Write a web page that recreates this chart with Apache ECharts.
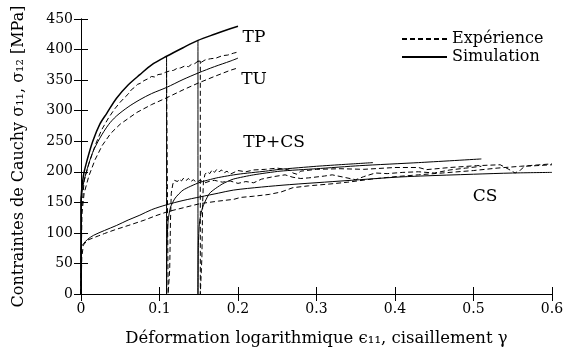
<!DOCTYPE html>
<html>
<head>
<meta charset="utf-8">
<script src="https://cdn.jsdelivr.net/npm/echarts@6/dist/echarts.min.js"></script>
<style>html,body{margin:0;padding:0;background:#fff}#c{width:567px;height:352px}</style>
</head>
<body>
<div id="c"></div>
<script>
// ---- data (x = déformation / cisaillement, y = contrainte MPa) ----
var xTicks = ['0', '0.1', '0.2', '0.3', '0.4', '0.5', '0.6'];
var yTicks = ['0', '50', '100', '150', '200', '250', '300', '350', '400', '450'];

var tpSim = [[0,0],[0,150],[0.003,193],[0.008,220],[0.015,250],[0.024,278],[0.033,296],[0.045,320],[0.06,342],[0.075,359],[0.09,375],[0.109,389],[0.13,403],[0.149,415],[0.17,425],[0.19,434],[0.2,438]];
var tpExp = [[0,0],[0.001,140],[0.004,185],[0.01,213],[0.018,243],[0.026,268],[0.035,288],[0.043,303],[0.05,314],[0.056,322],[0.06,327],[0.064,334],[0.068,338],[0.072,343],[0.076,345],[0.08,349],[0.085,352],[0.09,356],[0.094,355],[0.098,359],[0.103,360],[0.108,363],[0.113,365],[0.118,366],[0.122,369],[0.127,370],[0.132,373],[0.137,372],[0.141,376],[0.145,377],[0.149,381],[0.153,379],[0.158,383],[0.165,385],[0.172,386],[0.18,390],[0.187,391],[0.194,394],[0.2,396]];
var tuSim = [[0,0],[0,150],[0.003,180],[0.008,205],[0.015,232],[0.024,255],[0.035,277],[0.045,291],[0.06,306],[0.075,318],[0.09,328],[0.109,338],[0.13,351],[0.15,362],[0.17,372],[0.19,381],[0.2,386]];
var tuExp = [[0,0],[0.001,130],[0.004,165],[0.01,193],[0.018,220],[0.027,243],[0.038,263],[0.05,278],[0.071,297],[0.09,310],[0.109,321],[0.13,334],[0.149,345],[0.17,356],[0.19,366],[0.2,370]];
var csSim = [[0,0],[0,76],[0.003,82],[0.008,89],[0.016,96],[0.03,104],[0.045,112],[0.06,121],[0.075,129],[0.09,138],[0.109,146],[0.13,153],[0.152,159],[0.175,165],[0.194,170],[0.23,175],[0.266,179],[0.31,183],[0.355,187],[0.4,191],[0.432,193],[0.5,196],[0.55,198],[0.6,199]];
var csExp = [[0,0],[0.001,60],[0.003,80],[0.008,88],[0.016,92],[0.022,95],[0.03,99],[0.043,105],[0.06,112],[0.081,121],[0.095,128],[0.111,135],[0.13,141],[0.152,148],[0.175,152],[0.195,155],[0.203,158],[0.22,160],[0.24,163],[0.255,167],[0.27,174],[0.29,177],[0.317,180],[0.34,183],[0.37,188],[0.4,192],[0.43,195],[0.46,198],[0.5,202],[0.53,206],[0.56,209],[0.6,213]];
var tpcs1Sim = [[0.109,389],[0.109,0],[0.1095,80],[0.111,120],[0.114,142],[0.12,157],[0.13,170],[0.15,182],[0.173,190],[0.2,196],[0.235,201],[0.2535,204],[0.3,209],[0.335,212],[0.372,215]];
var tpcs1Exp = [[0.109,363],[0.111,363],[0.111,0],[0.113,40],[0.114,120],[0.115,165],[0.117,180],[0.119,186],[0.121,189],[0.123,184],[0.125,188],[0.128,185],[0.131,190],[0.134,186],[0.137,189],[0.14,184],[0.143,187],[0.147,183],[0.152,186],[0.158,182],[0.165,185],[0.17,186],[0.18,183],[0.19,185],[0.2,181],[0.21,184],[0.22,182],[0.23,188],[0.245,192],[0.26,195],[0.27,191],[0.28,189],[0.29,190],[0.31,193],[0.32,195],[0.335,191],[0.35,187],[0.36,192],[0.375,198],[0.39,197],[0.41,199],[0.43,200],[0.45,198],[0.47,203],[0.49,206],[0.51,209]];
var tpcs2Sim = [[0.149,415],[0.149,0],[0.1495,80],[0.151,118],[0.155,142],[0.164,165],[0.18,180],[0.194,188],[0.22,195],[0.2535,201],[0.3,205],[0.355,210],[0.43,215],[0.51,221]];
var tpcs2Exp = [[0.149,381],[0.152,381],[0.152,0],[0.154,60],[0.155,150],[0.156,185],[0.158,196],[0.161,200],[0.164,197],[0.167,203],[0.17,199],[0.173,204],[0.176,200],[0.179,203],[0.182,198],[0.186,201],[0.19,196],[0.195,199],[0.2,202],[0.21,200],[0.22,203],[0.235,204],[0.25,206],[0.265,203],[0.27,198],[0.275,196],[0.28,201],[0.3,204],[0.33,205],[0.36,204],[0.4,207],[0.43,207],[0.44,203.5],[0.47,207],[0.504,210],[0.534,211.5],[0.545,204],[0.553,198],[0.56,203],[0.565,209],[0.58,210],[0.6,211.5]];

var labels = [
  { text: 'TP', x: 254, y: 38 },
  { text: 'TU', x: 254, y: 80 },
  { text: 'TP+CS', x: 274, y: 143 },
  { text: 'CS', x: 485, y: 197 }
];

var FONT = 'DejaVu Serif';
function ser(name, data, dashed, width, smooth) {
  return {
    name: name, type: 'line', data: data, symbol: 'none', showSymbol: false,
    animation: false, silent: true, smooth: smooth || false,
    lineStyle: { color: '#000', width: width || 1, type: dashed ? [5, 3] : 'solid' },
    itemStyle: { color: '#000', opacity: 0 }
  };
}
var E = 'Expérience', S = 'Simulation';
var series = [
  ser(E, tpExp, true), ser(S, tpSim, false, 1.5, 0.3),
  ser(E, tuExp, true), ser(S, tuSim, false, 1, 0.3),
  ser(E, csExp, true), ser(S, csSim, false, 1, 0.3),
  ser(E, tpcs1Exp, true), ser(S, tpcs1Sim, false, 1, 0.2),
  ser(E, tpcs2Exp, true), ser(S, tpcs2Sim, false, 1, 0.2)
];

var axisCommon = {
  axisLine: { show: true, lineStyle: { color: '#000', width: 1 } },
  axisTick: { show: true, inside: true, length: 7, lineStyle: { color: '#000' } },
  splitLine: { show: false }
};

var chart = echarts.init(document.getElementById('c'));
chart.setOption({
  animation: false,
  backgroundColor: '#fff',
  grid: { left: 81, right: 15, top: 19, bottom: 57 },
  legend: {
    data: [E, S], orient: 'vertical', left: 399, top: 28, padding: 2,
    itemWidth: 45, itemHeight: 14, itemGap: 0,
    itemStyle: { opacity: 0 },
    textStyle: { fontFamily: FONT, fontSize: 16, color: '#000', lineHeight: 18 },
    selectedMode: false
  },
  xAxis: [
    Object.assign({ type: 'value', min: 0, max: 0.6, interval: 0.1, position: 'bottom',
      name: 'Déformation logarithmique ϵ₁₁, cisaillement γ', nameLocation: 'middle', nameGap: 36,
      nameTextStyle: { fontFamily: FONT, fontSize: 16.5, color: '#000' },
      axisLabel: { fontFamily: FONT, fontSize: 14, color: '#000', margin: 8,
        formatter: function (v) { return xTicks[Math.round(v * 10)]; } } }, axisCommon),
    Object.assign({ type: 'value', min: 0, max: 0.6, interval: 0.1, position: 'top',
      axisLabel: { show: false } }, axisCommon)
  ],
  yAxis: [
    Object.assign({ type: 'value', min: 0, max: 450, interval: 50, position: 'left',
      name: 'Contraintes de Cauchy σ₁₁, σ₁₂ [MPa]', nameLocation: 'middle', nameGap: 54,
      nameTextStyle: { fontFamily: FONT, fontSize: 16, color: '#000' },
      axisLabel: { fontFamily: FONT, fontSize: 14, color: '#000', margin: 8,
        formatter: function (v) { return yTicks[Math.round(v / 50)]; } } }, axisCommon),
    Object.assign({ type: 'value', min: 0, max: 450, interval: 50, position: 'right',
      axisLabel: { show: false } }, axisCommon)
  ],
  graphic: labels.map(function (l) {
    return { type: 'text', x: l.x, y: l.y, silent: true,
      style: { text: l.text, font: '17px "' + FONT + '"', fill: '#000', align: 'center', verticalAlign: 'middle' } };
  }),
  series: series
});
</script>
</body>
</html>
